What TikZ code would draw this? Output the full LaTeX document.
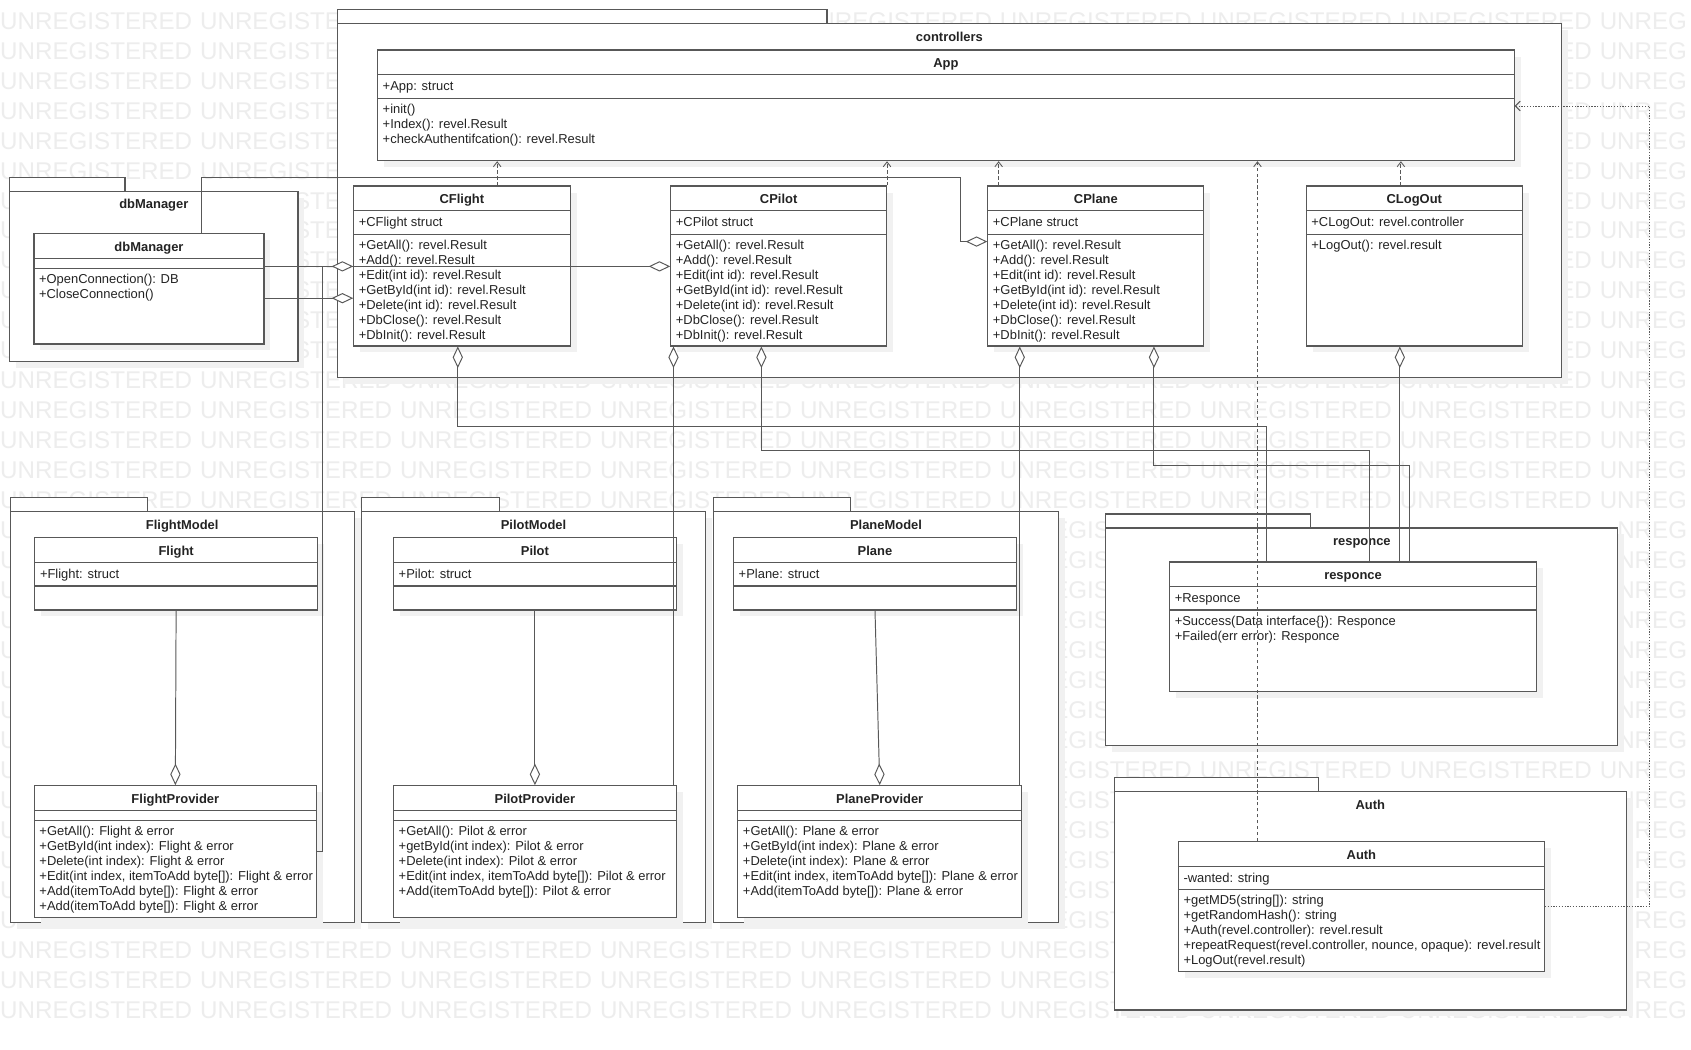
\documentclass[tikz,border=0pt]{standalone}
\usepackage{fontspec}
\setmainfont{Liberation Sans}
\usetikzlibrary{arrows.meta,fit,shadows}

\definecolor{linec}{RGB}{88,88,88}
\definecolor{textc}{RGB}{35,35,35}
\definecolor{wmarkc}{RGB}{237,237,237}
\definecolor{shadowc}{RGB}{241,241,241}

\tikzset{
	umlpkg/.style={draw=linec,fill=white,line width=1pt,inner sep=0pt,
		drop shadow={shadow xshift=6pt,shadow yshift=-6pt,fill=shadowc,opacity=1}},
	pkgtab/.style={draw=linec,fill=white,line width=1pt,inner sep=0pt},
	umlclass/.style={draw=linec,fill=white,line width=1pt,inner sep=0pt,
		drop shadow={shadow xshift=6pt,shadow yshift=-6pt,fill=shadowc,opacity=1}},
	divline/.style={draw=linec,line width=1pt},
	ptitle/.style={font=\fontsize{12}{14}\selectfont\bfseries,text=textc,anchor=base,inner sep=0pt},
	ctitle/.style={font=\fontsize{12}{14}\selectfont\bfseries,text=textc,anchor=base,inner sep=0pt},
	member/.style={text=textc,anchor=base west,inner sep=0pt},
	wmark/.style={font=\fontsize{22.4}{26}\selectfont,text=wmarkc,anchor=base west,inner sep=0pt},
	depend/.style={draw=linec,line width=0.8pt,dash pattern=on 3pt off 2.5pt,-{Straight Barb[length=4.5pt,width=7pt]}},
	realize/.style={draw=linec,line width=0.9pt,dash pattern=on 1.2pt off 1.4pt,-{Straight Barb[length=4.5pt,width=9pt]}},
	aggr/.style={draw=linec,line width=0.9pt,-{Diamond[fill=white,length=20pt,width=9.5pt]}},
}

\begin{document}
\begin{tikzpicture}[x=1pt,y=-1pt,font=\fontsize{12}{14}\selectfont]
\useasboundingbox (0,0) rectangle (1568,973.6);
\fill[white] (0,0) rectangle (1568,973.6);

%watermark (only the parts left visible)
\foreach \c in {0,5,6,7}
	\node[wmark] (wm-0-\c) at (185.4*\c,27) {UNREGISTERED};
\node[wmark] (wm-0-1) at (185.4,27) {UNREGISTE};
\node[wmark] (wm-0-4) at (757.8,27) {NREGISTERED};
\foreach \k in {1,...,5}{
	\node[wmark] (wm-\k-0) at (0,27+27.8*\k) {UNREGISTERED};
	\node[wmark] (wm-\k-1) at (185.4,27+27.8*\k) {UNREGISTE};
}
\foreach \k in {6,...,11}{
	\node[wmark] (wm-\k-0) at (0,27+27.8*\k) {U};
	\node[wmark] (wm-\k-1) at (272.5,27+27.8*\k) {STE};
}
\foreach \k in {1,...,11}
	\node[wmark] (wm-\k-7) at (1444.7,27+27.8*\k) {ED};
\foreach \k in {12,...,16,33}
	\foreach \c in {0,...,7}
		\node[wmark] (wm-\k-\c) at (185.4*\c,27+27.8*\k) {UNREGISTERED};
\foreach \k in {0,...,16,25,33}
	\node[wmark] (wm-\k-8) at (1483.2,27+27.8*\k) {UNREG};
\foreach \k in {17,...,24,26,27,28,29,30,31,32}
	\node[wmark] (wm-\k-8) at (1499.4,27+27.8*\k) {NREG};
\foreach \k in {17,...,30}
	\node[wmark] (wm-\k-0) at (0,27+27.8*\k) {U};
\foreach \k in {17,...,24}
	\node[wmark] (wm-\k-5) at (975.5,27+27.8*\k) {EGIS};
\node[wmark] (wm-25-5) at (975.5,27+27.8*25) {EGISTERED};
\foreach \c in {6,7}
	\node[wmark] (wm-25-\c) at (185.4*\c,27+27.8*25) {UNREGISTERED};
\foreach \k in {26,...,30}
	\node[wmark] (wm-\k-5) at (975.5,27+27.8*\k) {EGIST};
\foreach \k in {31,32}{
	\foreach \c in {0,...,4}
		\node[wmark] (wm-\k-\c) at (185.4*\c,27+27.8*\k) {UNREGISTERED};
	\node[wmark] (wm-\k-5) at (927,27+27.8*\k) {UNREGIST};
}

%controllers
\node[pkgtab,fit={(312.7,8.7) (766.8,21.6)}] (ctrl-tab) {};
\node[umlpkg,fit={(312.7,21.6) (1448,350.2)}] (ctrl) {};
\node[ptitle] (ctrl-title) at ([yshift=-17pt]ctrl.north) {controllers};

\node[umlclass,fit={(350.2,46.4) (1404,149)}] (app) {};
\draw[divline] (app.west |- 0,69.4) -- (app.east |- 0,69.4);
\draw[divline] (app.west |- 0,91) -- (app.east |- 0,91);
\node[ctitle] (app-title) at (app.north |- 0,62.9) {App};
\node[member] (app-attr) at (354.7,84) {+App: struct};
\foreach \m [count=\i from 0] in {+init(),+Index(): revel.Result,+checkAuthentifcation(): revel.Result}
	\node[member] (app-m\i) at (354.7,105+13.9*\i) {\m};

\node[umlclass,fit={(328,172.5) (528.6,320.8)}] (cflight) {};
\draw[divline] (cflight.west |- 0,195.5) -- (cflight.east |- 0,195.5);
\draw[divline] (cflight.west |- 0,217.2) -- (cflight.east |- 0,217.2);
\node[ctitle] (cflight-title) at (cflight.north |- 0,189) {CFlight};
\node[member] (cflight-attr) at (332.5,210) {+CFlight struct};
\foreach \m [count=\i from 0] in {+GetAll(): revel.Result,+Add(): revel.Result,+Edit(int id): revel.Result,+GetById(int id): revel.Result,+Delete(int id): revel.Result,+DbClose(): revel.Result,+DbInit(): revel.Result}
	\node[member] (cflight-m\i) at (332.5,231.2+13.9*\i) {\m};

\node[umlclass,fit={(622,172.5) (822,320.8)}] (cpilot) {};
\draw[divline] (cpilot.west |- 0,195.5) -- (cpilot.east |- 0,195.5);
\draw[divline] (cpilot.west |- 0,217.2) -- (cpilot.east |- 0,217.2);
\node[ctitle] (cpilot-title) at (cpilot.north |- 0,189) {CPilot};
\node[member] (cpilot-attr) at (626.5,210) {+CPilot struct};
\foreach \m [count=\i from 0] in {+GetAll(): revel.Result,+Add(): revel.Result,+Edit(int id): revel.Result,+GetById(int id): revel.Result,+Delete(int id): revel.Result,+DbClose(): revel.Result,+DbInit(): revel.Result}
	\node[member] (cpilot-m\i) at (626.5,231.2+13.9*\i) {\m};

\node[umlclass,fit={(916,172.5) (1116.3,320.8)}] (cplane) {};
\draw[divline] (cplane.west |- 0,195.5) -- (cplane.east |- 0,195.5);
\draw[divline] (cplane.west |- 0,217.2) -- (cplane.east |- 0,217.2);
\node[ctitle] (cplane-title) at (cplane.north |- 0,189) {CPlane};
\node[member] (cplane-attr) at (920.5,210) {+CPlane struct};
\foreach \m [count=\i from 0] in {+GetAll(): revel.Result,+Add(): revel.Result,+Edit(int id): revel.Result,+GetById(int id): revel.Result,+Delete(int id): revel.Result,+DbClose(): revel.Result,+DbInit(): revel.Result}
	\node[member] (cplane-m\i) at (920.5,231.2+13.9*\i) {\m};

\node[umlclass,fit={(1211.3,172.5) (1411.5,320.8)}] (clogout) {};
\draw[divline] (clogout.west |- 0,195.5) -- (clogout.east |- 0,195.5);
\draw[divline] (clogout.west |- 0,217.2) -- (clogout.east |- 0,217.2);
\node[ctitle] (clogout-title) at (clogout.north |- 0,189) {CLogOut};
\node[member] (clogout-attr) at (1215.8,210) {+CLogOut: revel.controller};
\node[member] (clogout-m0) at (1215.8,231.2) {+LogOut(): revel.result};

%dbManager
\node[pkgtab,fit={(9,164.8) (115.9,177.7)}] (pdb-tab) {};
\node[umlpkg,fit={(9,177.7) (276.3,335.4)}] (pdb) {};
\node[ptitle] (pdb-title) at ([yshift=-16.5pt]pdb.north) {dbManager};

\node[umlclass,fit={(31.5,216.3) (244.8,319)}] (dbman) {};
\draw[divline] (dbman.west |- 0,239.9) -- (dbman.east |- 0,239.9);
\draw[divline] (dbman.west |- 0,248.8) -- (dbman.east |- 0,248.8);
\node[ctitle] (dbman-title) at (dbman.north |- 0,232.8) {dbManager};
\node[member] (dbman-m0) at (36,262.5) {+OpenConnection(): DB};
\node[member] (dbman-m1) at (36,276.4) {+CloseConnection()};

%FlightModel
\node[pkgtab,fit={(9.4,461.7) (136.7,474.7)}] (pflight-tab) {};
\node[umlpkg,fit={(9.4,474.7) (328.5,855.2)}] (pflight) {};
\node[ptitle] (pflight-title) at ([yshift=-16.7pt]pflight.north) {FlightModel};

\node[umlclass,fit={(32.4,498.5) (294.2,565.6)}] (flight) {};
\draw[divline] (flight.west |- 0,521.7) -- (flight.east |- 0,521.7);
\draw[divline] (flight.west |- 0,543.4) -- (flight.east |- 0,543.4);
\node[ctitle] (flight-title) at (flight.north |- 0,515) {Flight};
\node[member] (flight-attr) at (36.9,536.8) {+Flight: struct};

\node[umlclass,fit={(31.9,728.5) (293.3,851)}] (flightprov) {};
\draw[divline] (flightprov.west |- 0,751.7) -- (flightprov.east |- 0,751.7);
\draw[divline] (flightprov.west |- 0,761) -- (flightprov.east |- 0,761);
\node[ctitle] (flightprov-title) at (flightprov.north |- 0,745) {FlightProvider};
\foreach \m [count=\i from 0] in {+GetAll(): Flight \& error,+GetById(int index): Flight \& error,+Delete(int index): Flight \& error,{+Edit(int index, itemToAdd byte[]): Flight \& error},+Add(itemToAdd byte[]): Flight \& error,+Add(itemToAdd byte[]): Flight \& error}
	\node[member] (flightprov-m\i) at (36.4,775+13.9*\i) {\m};

%PilotModel
\node[pkgtab,fit={(335.5,461.7) (462.8,474.7)}] (ppilot-tab) {};
\node[umlpkg,fit={(335.5,474.7) (654,855.2)}] (ppilot) {};
\node[ptitle] (ppilot-title) at ([yshift=-16.7pt]ppilot.north) {PilotModel};

\node[umlclass,fit={(365,498.5) (627,565.6)}] (pilot) {};
\draw[divline] (pilot.west |- 0,521.7) -- (pilot.east |- 0,521.7);
\draw[divline] (pilot.west |- 0,543.4) -- (pilot.east |- 0,543.4);
\node[ctitle] (pilot-title) at (pilot.north |- 0,515) {Pilot};
\node[member] (pilot-attr) at (369.5,536.8) {+Pilot: struct};

\node[umlclass,fit={(365,728.5) (627,851)}] (pilotprov) {};
\draw[divline] (pilotprov.west |- 0,751.7) -- (pilotprov.east |- 0,751.7);
\draw[divline] (pilotprov.west |- 0,761) -- (pilotprov.east |- 0,761);
\node[ctitle] (pilotprov-title) at (pilotprov.north |- 0,745) {PilotProvider};
\foreach \m [count=\i from 0] in {+GetAll(): Pilot \& error,+getById(int index): Pilot \& error,+Delete(int index): Pilot \& error,{+Edit(int index, itemToAdd byte[]): Pilot \& error},+Add(itemToAdd byte[]): Pilot \& error}
	\node[member] (pilotprov-m\i) at (369.5,775+13.9*\i) {\m};

%PlaneModel
\node[pkgtab,fit={(661.7,461.7) (789,474.7)}] (pplane-tab) {};
\node[umlpkg,fit={(661.7,474.7) (981.4,855.2)}] (pplane) {};
\node[ptitle] (pplane-title) at ([yshift=-16.7pt]pplane.north) {PlaneModel};

\node[umlclass,fit={(680.3,498.5) (942.4,565.6)}] (plane) {};
\draw[divline] (plane.west |- 0,521.7) -- (plane.east |- 0,521.7);
\draw[divline] (plane.west |- 0,543.4) -- (plane.east |- 0,543.4);
\node[ctitle] (plane-title) at (plane.north |- 0,515) {Plane};
\node[member] (plane-attr) at (684.8,536.8) {+Plane: struct};

\node[umlclass,fit={(684.2,728.5) (947.3,851)}] (planeprov) {};
\draw[divline] (planeprov.west |- 0,751.7) -- (planeprov.east |- 0,751.7);
\draw[divline] (planeprov.west |- 0,761) -- (planeprov.east |- 0,761);
\node[ctitle] (planeprov-title) at (planeprov.north |- 0,745) {PlaneProvider};
\foreach \m [count=\i from 0] in {+GetAll(): Plane \& error,+GetById(int index): Plane \& error,+Delete(int index): Plane \& error,{+Edit(int index, itemToAdd byte[]): Plane \& error},+Add(itemToAdd byte[]): Plane \& error}
	\node[member] (planeprov-m\i) at (688.7,775+13.9*\i) {\m};

%responce
\node[pkgtab,fit={(1025.4,476.6) (1215.2,489.6)}] (presp-tab) {};
\node[umlpkg,fit={(1025.4,489.6) (1500.2,691)}] (presp) {};
\node[ptitle] (presp-title) at ([yshift=-16.5pt]presp.north) {responce};

\node[umlclass,fit={(1084.6,521.1) (1424.6,641.6)}] (resp) {};
\draw[divline] (resp.west |- 0,544) -- (resp.east |- 0,544);
\draw[divline] (resp.west |- 0,565.6) -- (resp.east |- 0,565.6);
\node[ctitle] (resp-title) at (resp.north |- 0,537.6) {responce};
\node[member] (resp-attr) at (1089.1,558.6) {+Responce};
\node[member] (resp-m0) at (1089.1,579.6) {+Success(Data interface\{\}): Responce};
\node[member] (resp-m1) at (1089.1,593.5) {+Failed(err error): Responce};

%Auth
\node[pkgtab,fit={(1033,720.8) (1222.8,734)}] (pauth-tab) {};
\node[umlpkg,fit={(1033,734) (1508.3,936.5)}] (pauth) {};
\node[ptitle] (pauth-title) at ([yshift=-17pt]pauth.north) {Auth};

\node[umlclass,fit={(1092.7,780.4) (1432,901)}] (auth) {};
\draw[divline] (auth.west |- 0,803.6) -- (auth.east |- 0,803.6);
\draw[divline] (auth.west |- 0,825) -- (auth.east |- 0,825);
\node[ctitle] (auth-title) at (auth.north |- 0,797) {Auth};
\node[member] (auth-attr) at (1097.2,818.5) {-wanted: string};
\foreach \m [count=\i from 0] in {+getMD5(string[]): string,+getRandomHash(): string,+Auth(revel.controller): revel.result,{+repeatRequest(revel.controller, nounce, opaque): revel.result},+LogOut(revel.result)}
	\node[member] (auth-m\i) at (1097.2,839+13.9*\i) {\m};

%dependencies
\draw[depend] (cflight.north -| 461,0) -- (app.south -| 461,0);
\draw[depend] (cpilot.north east) -- (app.south -| cpilot.east);
\draw[depend] (cplane.north -| 926,0) -- (app.south -| 926,0);
\draw[depend] (clogout.north -| 1299,0) -- (app.south -| 1299,0);
\draw[depend] (auth.north -| 1166,0) -- (app.south -| 1166,0);
\coordinate (authbend) at (1529.4,98.3);
\draw[realize] (auth.east |- 0,840.7) -| (authbend) -- (app.east |- authbend);

%aggregations
\draw[aggr] (dbman.east |- 0,247) -- (cpilot.west |- 0,247);
\draw[aggr] (dbman.east |- 0,276.5) -- (cflight.west |- 0,276.5);
\coordinate (dbbend) at (187,164.8);
\coordinate (cplanebend) at (891,224);
\draw[aggr] (dbman.north -| dbbend) -- (dbbend) -| (cplanebend) -- (cplane.west |- cplanebend);
\coordinate (fpbend) at (299.3,247);
\draw[aggr] (flightprov.east |- 0,789.7) -| (fpbend) -- (cflight.west |- fpbend);
\draw[aggr] (flight.south) -- (flightprov.north);
\draw[aggr] (pilot.south) -- (pilotprov.north);
\draw[aggr] (plane.south) -- (planeprov.north);
\draw[aggr] (pilotprov.north -| 624.5,0) -- (cpilot.south -| 624.5,0);
\draw[aggr] (planeprov.north -| 945.6,0) -- (cplane.south -| 945.6,0);
\coordinate (rbend1) at (1174,395);
\draw[aggr] (resp.north -| rbend1) -- (rbend1) -| (cflight.south -| 424.5,0);
\coordinate (rbend2) at (1270,418);
\draw[aggr] (resp.north -| rbend2) -- (rbend2) -| (cpilot.south -| 706,0);
\coordinate (rbend3) at (1307,432);
\draw[aggr] (resp.north -| rbend3) -- (rbend3) -| (cplane.south -| 1070,0);
\draw[aggr] (resp.north -| 1298,0) -- (clogout.south -| 1298,0);
\end{tikzpicture}
\end{document}
